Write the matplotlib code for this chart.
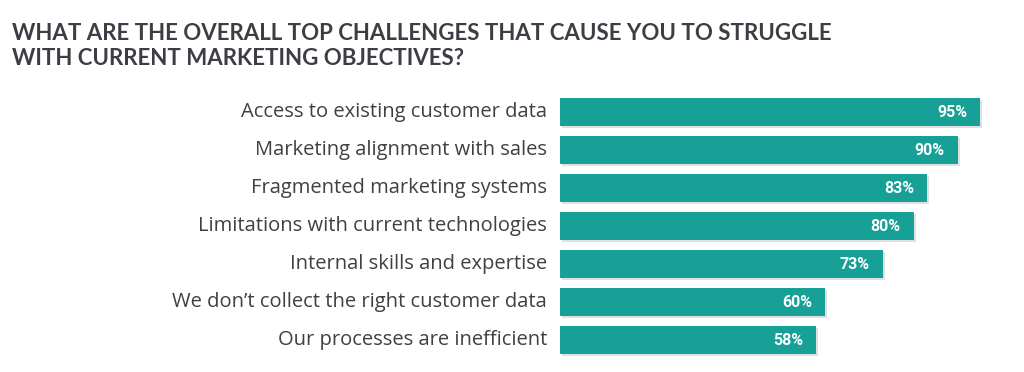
import matplotlib.pyplot as plt
import matplotlib.patheffects as pe

# --- Data ---
categories = [
    "Access to existing customer data",
    "Marketing alignment with sales",
    "Fragmented marketing systems",
    "Limitations with current technologies",
    "Internal skills and expertise",
    "We don\u2019t collect the right customer data",
    "Our processes are inefficient",
]
values = [95, 90, 83, 80, 73, 60, 58]

title = "WHAT ARE THE OVERALL TOP CHALLENGES THAT CAUSE YOU TO STRUGGLE\nWITH CURRENT MARKETING OBJECTIVES?"

teal = "#17a096"
text_col = "#404040"

# --- Figure ---
W, H = 1024, 372
fig = plt.figure(figsize=(W / 100, H / 100), dpi=100)
fig.patch.set_facecolor("white")

# axes placed in pixel units: x from 560 to 1002 px (0..100%), y from 93 to 359 px
ax = fig.add_axes([560 / W, (H - 359) / H, (1002 - 560) / W, 266 / H])
ax.set_xlim(0, 100)
ax.set_ylim(len(values) - 0.5, -0.5)
ax.axis("off")

ypos = list(range(len(values)))
bars = ax.barh(ypos, values, height=0.74, color=teal, zorder=2)
for b in bars:
    b.set_path_effects([
        pe.SimplePatchShadow(offset=(1.5, -1.5), shadow_rgbFace="#000000", alpha=0.12),
        pe.Normal(),
    ])

for y, v, c in zip(ypos, values, categories):
    ax.text(v - 2.9, y, f"{v}%", ha="right", va="center", color="white",
            fontsize=11.5, fontweight="bold", family="Roboto", zorder=3)
    ax.text(-2.9, y, c, ha="right", va="center", color=text_col,
            fontsize=14.5, family="Open Sans", clip_on=False)

fig.text(12 / W, 1 - 23 / H, title, ha="left", va="top", color="#3d3d45",
         fontsize=16, fontweight="bold", family="Lato", linespacing=1.22)

fig.savefig("out.png", dpi=100, facecolor="white")
